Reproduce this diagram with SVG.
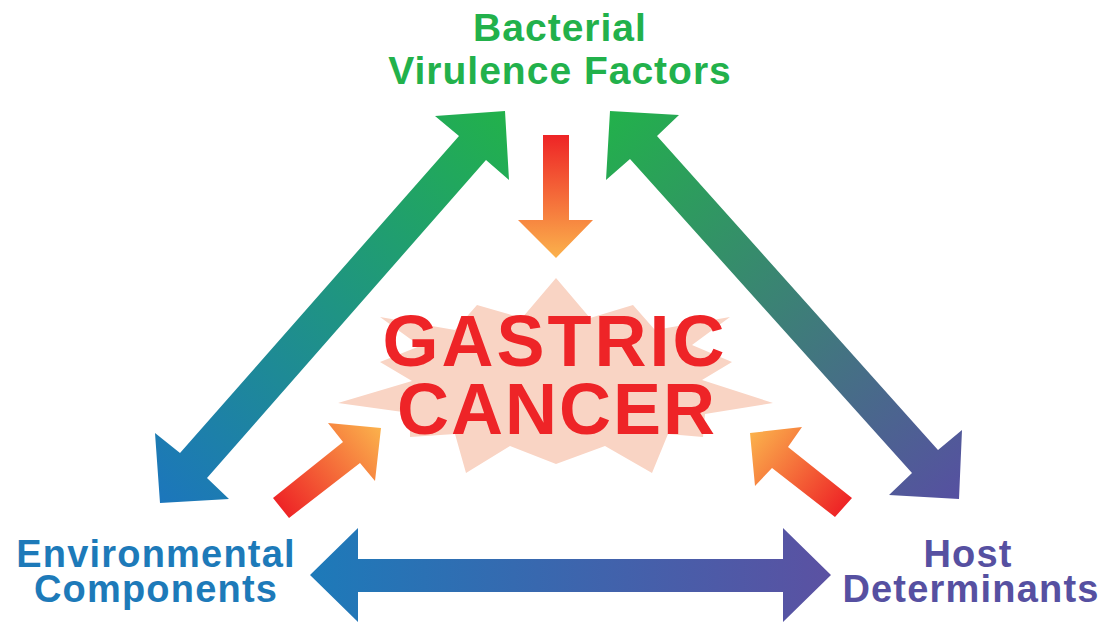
<svg xmlns="http://www.w3.org/2000/svg" width="1104" height="623" viewBox="0 0 1104 623">
  <defs>
    <style>
      .lbl { font-family: "Liberation Sans", Arial, sans-serif; font-weight: bold; text-anchor: middle; }
      .side { font-size: 38px; letter-spacing: 1.2px; }
      .top { font-size: 39px; letter-spacing: 1px; }
      .big { font-size: 72px; fill: #EE2427; }
    </style>
    <linearGradient id="gLeft" gradientUnits="userSpaceOnUse" x1="505" y1="111" x2="160" y2="503">
      <stop offset="0" stop-color="#22B14B"/>
      <stop offset="1" stop-color="#1C76BC"/>
    </linearGradient>
    <linearGradient id="gRight" gradientUnits="userSpaceOnUse" x1="610" y1="111" x2="959" y2="499">
      <stop offset="0" stop-color="#22B14B"/>
      <stop offset="1" stop-color="#5650A1"/>
    </linearGradient>
    <linearGradient id="gBottom" gradientUnits="userSpaceOnUse" x1="310" y1="575" x2="831" y2="575">
      <stop offset="0" stop-color="#1D7AB9"/>
      <stop offset="1" stop-color="#5B51A2"/>
    </linearGradient>
    <linearGradient id="gDown" gradientUnits="userSpaceOnUse" x1="556" y1="135" x2="556" y2="258">
      <stop offset="0" stop-color="#EE2426"/>
      <stop offset="1" stop-color="#FBB24C"/>
    </linearGradient>
    <linearGradient id="gSL" gradientUnits="userSpaceOnUse" x1="281" y1="508" x2="381" y2="428">
      <stop offset="0" stop-color="#EE2426"/>
      <stop offset="1" stop-color="#FBB24C"/>
    </linearGradient>
    <linearGradient id="gSR" gradientUnits="userSpaceOnUse" x1="843" y1="508" x2="750" y2="433">
      <stop offset="0" stop-color="#EE2426"/>
      <stop offset="1" stop-color="#FBB24C"/>
    </linearGradient>
  </defs>
  <rect width="1104" height="623" fill="#FFFFFF"/>

  <g id="gastric-cancer">
    <polygon fill="#F9D4C4" points="556,278 590,318 633,305 655,330 730,317 692,345 732,362 702,380 773,403 705,414 703,437 668,434 652,473 605,446 556,464 510,446 466,473 455,434 410,437 410,413 338,403 412,381 380,362 420,346 380,317 455,330 477,305 522,318"/>
    <text class="lbl big" x="555" y="366" letter-spacing="3">GASTRIC</text>
    <text class="lbl big" x="557" y="434" letter-spacing="2">CANCER</text>
  </g>

  <g id="bacterial">
    <text class="lbl top" x="560" y="41" fill="#22B14B">Bacterial</text>
    <text class="lbl top" x="560" y="84" fill="#22B14B">Virulence Factors</text>
  </g>

  <g id="environmental">
    <text class="lbl side" x="156" y="567" fill="#1D7AB9">Environmental</text>
    <text class="lbl side" x="156" y="602" fill="#1D7AB9">Components</text>
  </g>

  <g id="host">
    <text class="lbl side" x="968" y="567" fill="#5650A1">Host</text>
    <text class="lbl side" x="971" y="602" fill="#5650A1">Determinants</text>
  </g>

  <g id="connectors">
    <polygon fill="url(#gLeft)" points="505,111 509,180 486,160 207,478 229,499 160,503 155,433 180,453 459,136 435,116"/>
    <polygon fill="url(#gRight)" points="610,111 679,115 657,136 938,450 962,430 959,499 889,495 912,473 630,159 606,180"/>
    <polygon fill="url(#gBottom)" points="310,575 358,528 358,559 783,559 783,528 831,575 783,622 783,592 358,592 358,622"/>
    <polygon fill="url(#gDown)" points="543,135 569,135 569,220 593,220 556,258 518,220 543,220"/>
    <polygon fill="url(#gSL)" points="273,498 343,442 328,423 381,428 375,481 360,463 289,518"/>
    <polygon fill="url(#gSR)" points="750,433 802,427 788,447 852,498 835,517 772,468 755,486"/>
  </g>
</svg>
